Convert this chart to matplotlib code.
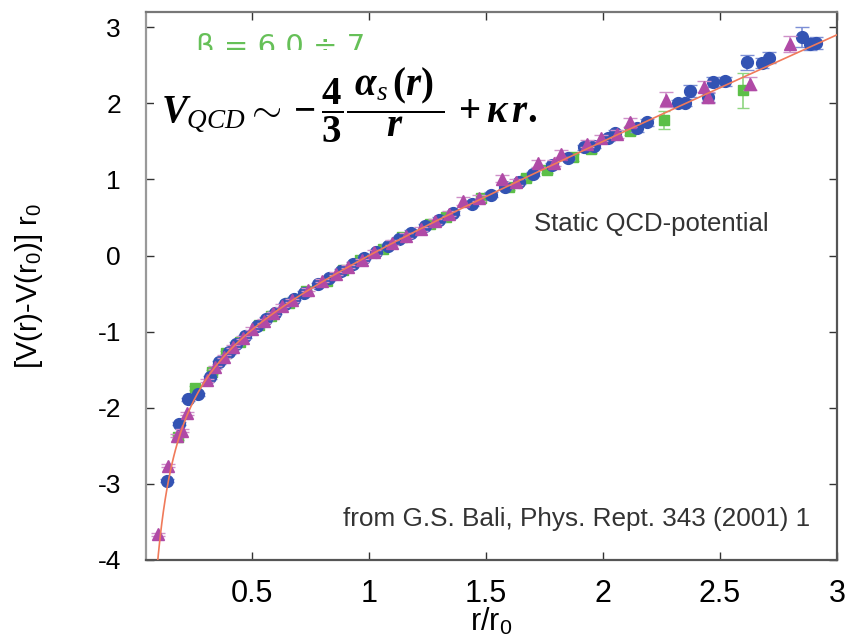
import matplotlib
matplotlib.use("Agg")
import matplotlib.pyplot as plt
import numpy as np
from matplotlib.patches import Rectangle

plt.rcParams['font.family'] = ['Liberation Sans', 'DejaVu Sans']
plt.rcParams['axes.unicode_minus'] = False
plt.rcParams['mathtext.fontset'] = 'custom'
plt.rcParams['mathtext.it'] = 'Liberation Serif:italic:bold'
plt.rcParams['mathtext.rm'] = 'Liberation Serif:bold'
plt.rcParams['mathtext.bf'] = 'Liberation Serif:bold'
plt.rcParams['mathtext.cal'] = 'Liberation Serif:italic'
plt.rcParams['mathtext.sf'] = 'Liberation Sans'

# fit parameters (Cornell form, units of r0)
e_coul = 0.30
sigma_r0sq = 1.35

# blue circles
blue_x = [0.137, 0.188, 0.227, 0.27, 0.32, 0.36, 0.40, 0.43, 0.47, 0.52,
          0.56, 0.60, 0.64, 0.68, 0.72, 0.78, 0.83, 0.88, 0.93, 0.98,
          1.03, 1.08, 1.13, 1.18, 1.24, 1.30, 1.36, 1.44, 1.52, 1.58,
          1.64, 1.70, 1.78, 1.85, 1.92, 1.96, 2.02, 2.05, 2.145, 2.19,
          2.32, 2.35, 2.37, 2.45, 2.47, 2.52, 2.615, 2.68, 2.71, 2.85,
          2.885, 2.91]
blue_y = [-2.96, -2.21, -1.89, -1.82, -1.60, -1.40, -1.27, -1.16, -1.06, -0.93,
          -0.83, -0.75, -0.64, -0.57, -0.49, -0.38, -0.30, -0.20, -0.11, -0.03,
          0.05, 0.13, 0.22, 0.30, 0.39, 0.47, 0.56, 0.68, 0.80, 0.90,
          0.97, 1.07, 1.19, 1.28, 1.42, 1.44, 1.55, 1.61, 1.67, 1.75,
          2.00, 2.01, 2.16, 2.08, 2.28, 2.29, 2.54, 2.53, 2.60, 2.87,
          2.78, 2.79]
blue_err = [0.02, 0.02, 0.02, 0.02, 0.02, 0.02, 0.02, 0.02, 0.02, 0.02,
            0.02, 0.02, 0.02, 0.02, 0.02, 0.02, 0.02, 0.02, 0.02, 0.02,
            0.02, 0.02, 0.03, 0.03, 0.03, 0.03, 0.03, 0.03, 0.03, 0.03,
            0.03, 0.03, 0.03, 0.03, 0.03, 0.03, 0.04, 0.04, 0.05, 0.05,
            0.05, 0.05, 0.08, 0.06, 0.06, 0.06, 0.10, 0.06, 0.07, 0.13,
            0.08, 0.08]

# magenta triangles
tri_x = [0.097, 0.14, 0.178, 0.20, 0.222, 0.307, 0.34, 0.38, 0.42, 0.46,
         0.50, 0.55, 0.59, 0.63, 0.67, 0.74, 0.80, 0.86, 0.91, 0.97,
         1.02, 1.10, 1.16, 1.22, 1.28, 1.34, 1.40, 1.47, 1.57, 1.63,
         1.72, 1.79, 1.82, 1.93, 1.99, 2.06, 2.115, 2.27, 2.43, 2.45,
         2.63, 2.80]
tri_y = [-3.66, -2.76, -2.37, -2.30, -2.07, -1.64, -1.47, -1.33, -1.20, -1.08,
         -0.96, -0.86, -0.76, -0.66, -0.59, -0.45, -0.33, -0.24, -0.15, -0.06,
         0.04, 0.17, 0.26, 0.35, 0.45, 0.55, 0.72, 0.75, 1.01, 0.97,
         1.21, 1.22, 1.34, 1.47, 1.54, 1.60, 1.75, 2.05, 2.22, 2.08,
         2.26, 2.78]
tri_err = [0.02, 0.02, 0.02, 0.02, 0.02, 0.02, 0.02, 0.02, 0.02, 0.02,
           0.02, 0.02, 0.02, 0.02, 0.02, 0.02, 0.02, 0.02, 0.02, 0.02,
           0.03, 0.03, 0.03, 0.03, 0.03, 0.03, 0.05, 0.04, 0.05, 0.04,
           0.05, 0.04, 0.05, 0.05, 0.04, 0.05, 0.06, 0.10, 0.07, 0.07,
           0.08, 0.10]

# green squares
sq_x = [0.184, 0.256, 0.33, 0.39, 0.45, 0.53, 0.58, 0.66, 0.73, 0.82,
        0.89, 0.96, 1.06, 1.14, 1.26, 1.33, 1.48, 1.60, 1.67, 1.76,
        1.87, 1.95, 2.115, 2.26, 2.60]
sq_y = [-2.39, -1.74, -1.53, -1.28, -1.13, -0.91, -0.79, -0.62, -0.47, -0.33,
        -0.19, -0.06, 0.09, 0.24, 0.42, 0.51, 0.76, 0.90, 1.02, 1.12,
        1.29, 1.40, 1.64, 1.78, 2.17]
sq_err = [0.03, 0.03, 0.02, 0.02, 0.02, 0.02, 0.02, 0.02, 0.02, 0.02,
          0.02, 0.02, 0.02, 0.03, 0.03, 0.03, 0.03, 0.04, 0.04, 0.04,
          0.05, 0.05, 0.06, 0.12, 0.23]

fig = plt.figure(figsize=(8.46, 6.37), dpi=100)
ax = fig.add_axes([0.1726, 0.1209, 0.8168, 0.8603])

r = np.linspace(0.085, 3.0, 400)
ax.plot(r, sigma_r0sq * (r - 1) - e_coul * (1 / r - 1), color='#f07a5a', lw=1.2, zorder=5)

ax.errorbar(sq_x, sq_y, yerr=sq_err, fmt='s', ms=7.5, color='#5cbf48',
            ecolor='#8fd680', elinewidth=1.2, capsize=4, zorder=2)
ax.errorbar(blue_x, blue_y, yerr=blue_err, fmt='o', ms=8.5, color='#3353b3',
            ecolor='#7d8fd6', elinewidth=1.2, capsize=5, zorder=3)
ax.errorbar(tri_x, tri_y, yerr=tri_err, fmt='^', ms=8.5, color='#b04aa6',
            ecolor='#cf90c8', elinewidth=1.2, capsize=5, zorder=4)

ax.set_xlim(0.047, 3.0)
ax.set_ylim(-4.0, 3.2)
ax.set_xticks([0.5, 1, 1.5, 2, 2.5, 3])
ax.set_xticklabels(['0.5', '1', '1.5', '2', '2.5', '3'])
ax.set_yticks([-4, -3, -2, -1, 0, 1, 2, 3])
ax.tick_params(direction='in', length=6, width=1, top=True, right=True,
               color='#333333')
ax.tick_params(axis='x', labelsize=22, pad=14)
ax.tick_params(axis='y', labelsize=19, pad=18)
for s in ax.spines.values():
    s.set_color('#555555')
    s.set_linewidth(1.6)
ax.spines['left'].set_color('#999999')
ax.spines['top'].set_color('#777777')

ax.set_xlabel(r'r/r$_\mathsf{0}$', fontsize=22)
ax.xaxis.set_label_coords(0.5, -0.084)
ax.set_ylabel(r'[V(r)-V(r$_\mathsf{0}$)] r$_\mathsf{0}$', fontsize=21)
ax.yaxis.set_label_coords(-0.146, 0.5)

# green label partly covered by formula
ax.text(0.073, 0.962, 'β = 6.0 ÷ 7', transform=ax.transAxes, fontsize=21,
        color='#66c058', ha='left', va='top', fontfamily='DejaVu Sans', zorder=6)
ax.add_patch(Rectangle((0.012, 0.74), 0.57, 0.191, transform=ax.transAxes,
                       facecolor='white', edgecolor='none', zorder=7))
ax.text(0.022, 0.83,
        r'$V_{\mathcal{QCD}}\sim-\dfrac{4}{3}\dfrac{\;\alpha_{\mathcal{s}}\,(r)\;}{r}\,+\kappa\,r.$',
        transform=ax.transAxes, fontsize=28, color='black', ha='left', va='center',
        zorder=8)

ax.text(0.562, 0.6, 'Static QCD-potential', transform=ax.transAxes,
        fontsize=18.5, color='#333333')
ax.text(0.285, 0.062, 'from G.S. Bali, Phys. Rept. 343 (2001) 1', transform=ax.transAxes,
        fontsize=18.8, color='#333333')

fig.savefig('out.png', dpi=100)
